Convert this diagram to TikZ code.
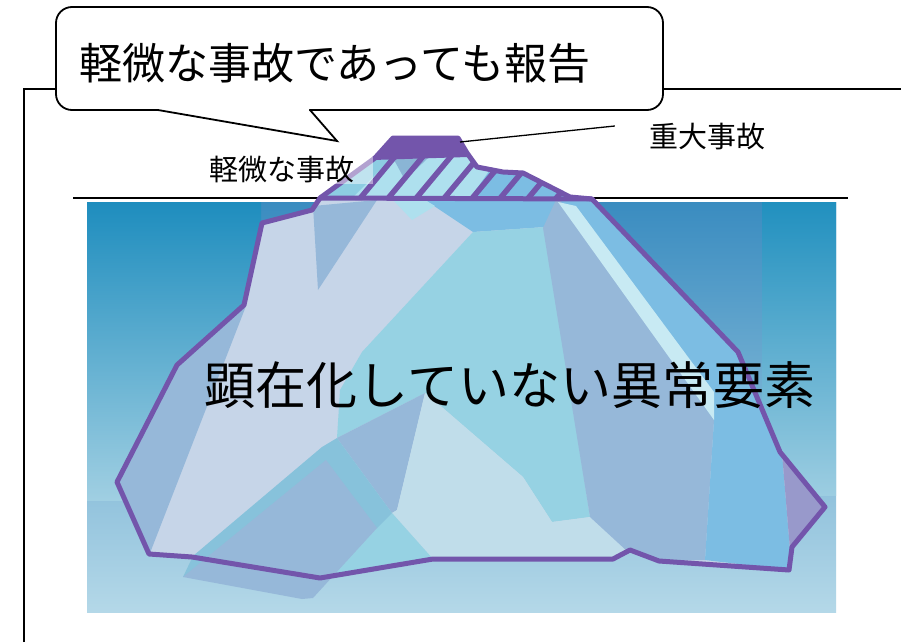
\documentclass[tikz,border=0pt]{standalone}
\usepackage{fontspec}
\setmainfont{Noto Sans CJK JP}
\usepackage{tikz}

\definecolor{berg}{HTML}{7355AB}
\definecolor{lav}{HTML}{C6D5E8}
\definecolor{slate}{HTML}{96B8D9}
\definecolor{ice}{HTML}{96D2E3}
\definecolor{midblue}{HTML}{7CBDE3}
\definecolor{pale}{HTML}{C8EAF3}
\definecolor{frost}{HTML}{C0DDEA}
\definecolor{band}{HTML}{87C2DB}
\definecolor{violet}{HTML}{9899CB}
\definecolor{tipice}{HTML}{AEE0EE}
\definecolor{tipleft}{HTML}{8DCDE2}
\definecolor{tipmid}{HTML}{8AB5D5}

\begin{document}
\begin{tikzpicture}[
    x=1pt, y=-1pt,
    every node/.style={inner sep=0pt},
    facet/.style={fill=#1, draw=none},
    rim/.style={draw=berg, line width=5pt, line join=round},
    hatch/.style={draw=berg, line width=5.5pt},
    leader/.style={draw=black, line width=1.3pt},
    frame/.style={draw=black, line width=1.8pt},
    bubble/.style={draw=black, line width=1.8pt, fill=white, rounded corners=16pt},
    big/.style={font=\fontsize{51}{60}\selectfont},
    mid/.style={font=\fontsize{43}{50}\selectfont},
    small/.style={font=\fontsize{29}{34}\selectfont}
  ]
  \fill[white] (0,0) rectangle (901,642);
  \useasboundingbox (0,0) rectangle (901,642);

  % sea
  \shade[top color={rgb,255:red,58;green,140;blue,192}, middle color={rgb,255:red,139;green,195;blue,219},
         bottom color={rgb,255:red,180;green,216;blue,232}] (87,202) rectangle (836,612);
  \shade[top color={rgb,255:red,30;green,141;blue,190}, bottom color={rgb,255:red,160;green,207;blue,226}]
         (87,202) rectangle (261,500);
  \shade[top color={rgb,255:red,33;green,144;blue,191}, bottom color={rgb,255:red,156;green,205;blue,225}]
         (762,202) rectangle (836,495);

  % frame and water line
  \draw[frame] (24,642) -- (24,89) -- (901,89);
  \draw[line width=2.2pt] (73,198) -- (848,198);

  % underwater body
  \fill[lav] (319,198) -- (592,199) -- (738,352) -- (780,452) -- (825,507) -- (792,547) -- (789,570)
    -- (659,561) -- (630,550) -- (613,559) -- (433,559) -- (320,578) -- (192,557) -- (149,554)
    -- (117,482) -- (177,365) -- (244,305) -- (262,223) -- (312,210) -- cycle;
  \fill[facet=slate] (246,306) -- (179,363) -- (117,482) -- (149,554) -- (150,553) -- cycle;
  \fill[facet=slate] (313,206) -- (377,200) -- (318,290) -- cycle;
  \fill[facet=midblue] (425,200) -- (473,232) -- (545,227) -- (557,200) -- cycle;
  \fill[facet=tipice] (393,200) -- (412,220) -- (435,206) -- (425,200) -- cycle;
  \fill[facet=ice] (473,232) -- (545,227) -- (590,517) -- (552,522) -- (523,477) -- (443,408)
    -- (425,393) -- (337,438) -- (340,390) -- (362,352) -- cycle;
  \fill[facet=slate] (337,438) -- (425,393) -- (397,510) -- (392,513) -- cycle;
  \fill[facet=frost] (425,393) -- (443,408) -- (523,477) -- (552,522) -- (590,517) -- (628,552)
    -- (613,559) -- (433,559) -- (392,513) -- (397,510) -- cycle;
  \fill[facet=ice] (392,513) -- (433,559) -- (320,578) -- cycle;
  \fill[facet=band] (183,577) -- (193,556) -- (322,447) -- (337,438) -- (392,513) -- (377,528) -- cycle;
  \fill[facet=slate] (183,577) -- (326,460) -- (377,528) -- (313,598) -- (302,599) -- cycle;
  \fill[facet=slate] (543,228) -- (556,200) -- (566,200) -- (714,420) -- (705,560) -- (659,561)
    -- (630,550) -- (628,552) -- (590,517) -- cycle;
  \fill[facet=midblue] (560,200) -- (592,200) -- (738,352) -- (782,453) -- (790,550) -- (789,570)
    -- (705,560) -- (714,420) -- cycle;
  \fill[facet=pale] (558,202) -- (576,206) -- (714,392) -- (714,420) -- cycle;
  \fill[facet=violet] (782,453) -- (825,507) -- (790,550) -- cycle;

  % tip above the water
  \begin{scope}
    \clip (320,198) -- (375,158) -- (393,138) -- (458,138) -- (467,153) -- (477,167) -- (503,172)
      -- (523,173) -- (570,197) -- (570,200) -- (320,200) -- cycle;
    \fill[tipice] (300,130) rectangle (600,200);
    \fill[facet=tipleft] (320,198) -- (375,158) -- (392,158) -- (352,198) -- cycle;
    \fill[facet=tipmid] (393,158) -- (428,158) -- (405,180) -- cycle;
    \fill[facet=midblue] (470,198) -- (490,170) -- (503,172) -- (523,173) -- (570,197) -- cycle;
    \foreach \x in {357,385,...,553}
      \draw[hatch] (\x,202) -- ++(50,-60);
    \fill[berg] (373,160) -- (393,138) -- (458,138) -- (468,157) -- cycle;
  \end{scope}

  % outline
  \draw[rim] (320,198) -- (375,158) -- (393,138) -- (458,138) -- (467,153) -- (477,167) -- (503,172)
    -- (523,173) -- (570,197) -- (592,199) -- (738,352) -- (780,452) -- (825,507) -- (792,547)
    -- (789,570) -- (659,561) -- (630,550) -- (613,559) -- (433,559) -- (320,578) -- (192,557)
    -- (149,554) -- (117,482) -- (177,365) -- (244,305) -- (262,223) -- (312,210) -- cycle;
  \draw[rim] (319,198) -- (592,199);

  % speech bubble
  \draw[bubble] (56,7) rectangle (663,110);
  \fill[white] (159,108) -- (159,111) -- (337,141) -- (309,111) -- (309,108) -- cycle;
  \draw[frame, line join=miter] (158,110) -- (337,141) -- (310,110);
  \node[mid, anchor=west] (report) at (79,63) {軽微な事故であっても報告};

  % labels
  \node[small, fill=white, fill opacity=.45, text opacity=1, inner xsep=18pt, minimum height=27pt]
    (minor) at (282,170) {軽微な事故};
  \node[small] (major) at (707,137) {重大事故};
  \coordinate (peak) at (460,142);
  \draw[leader] (peak) -- ([shift={(-34,-11)}]major.west);
  \node[big] (latent) at (510,385) {顕在化していない異常要素};
\end{tikzpicture}
\end{document}
